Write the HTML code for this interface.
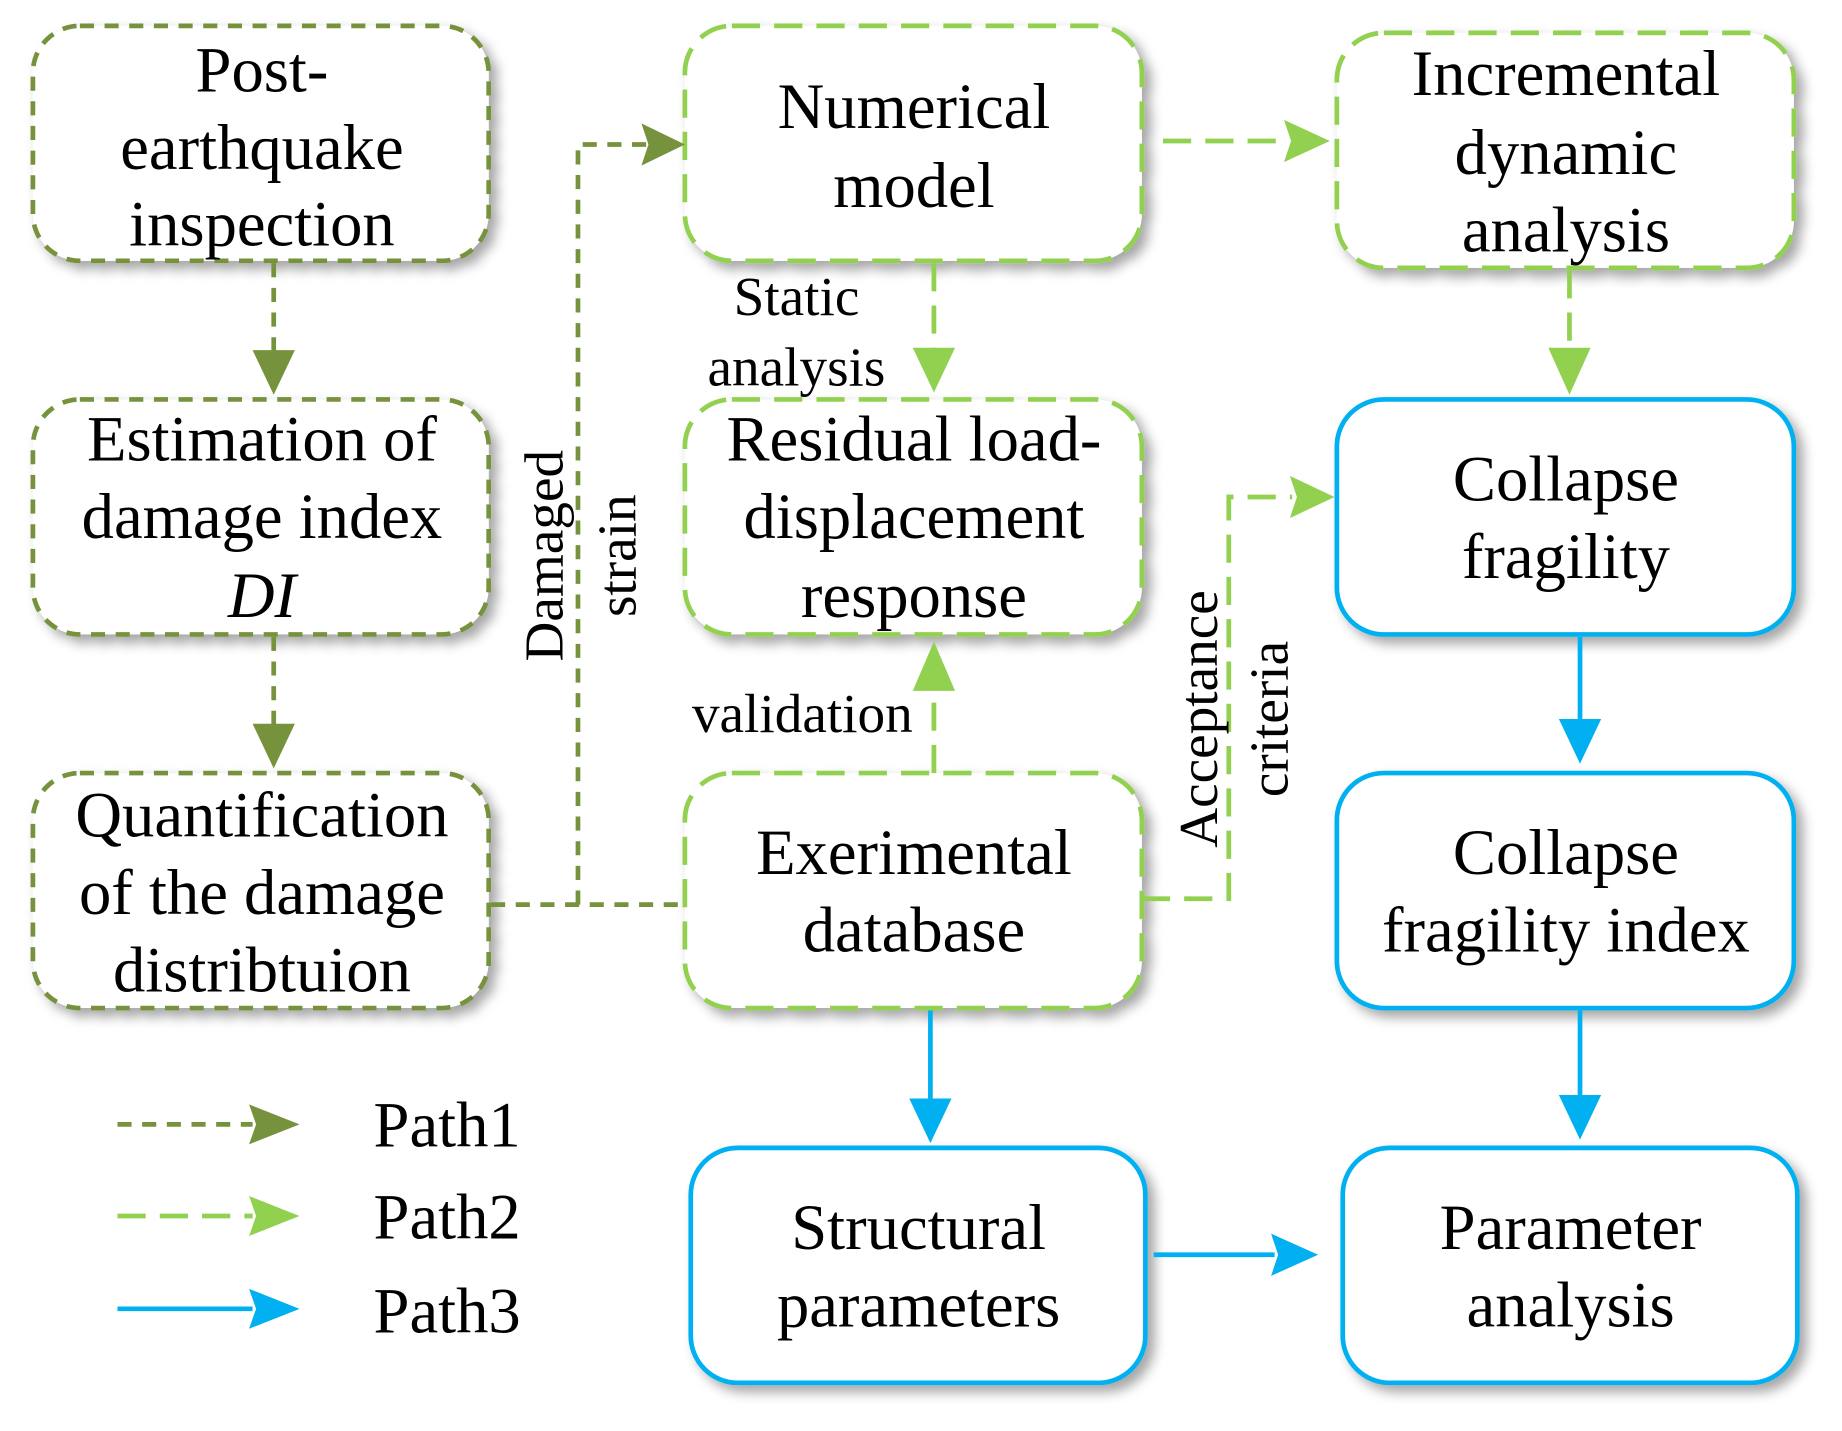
<!DOCTYPE html>
<html><head><style>html,body{margin:0;padding:0;background:#fff}svg{display:block}</style></head>
<body>
<svg width="1842" height="1431" viewBox="0 0 1568 1218" preserveAspectRatio="none" xmlns="http://www.w3.org/2000/svg" font-family="'Liberation Serif', serif">
<defs>
<filter id="sh" x="-10%" y="-10%" width="130%" height="130%"><feDropShadow dx="6" dy="6" stdDeviation="5" flood-color="#000" flood-opacity="0.35"/></filter>
</defs>
<g fill="#fff" stroke-width="4">
<g stroke="#76923C" stroke-dasharray="12,9">
<rect x="28" y="22" width="388" height="200" rx="40" filter="url(#sh)"/>
<rect x="28" y="340" width="388" height="200" rx="40" filter="url(#sh)"/>
<rect x="28" y="658" width="388" height="200" rx="40" filter="url(#sh)"/>
</g>
<g stroke="#92D050" stroke-dasharray="24,12">
<rect x="583" y="22" width="389" height="200" rx="40" filter="url(#sh)"/>
<rect x="1138" y="28" width="389" height="200" rx="40" filter="url(#sh)"/>
<rect x="583" y="340" width="389" height="200" rx="40" filter="url(#sh)"/>
<rect x="583" y="658" width="389" height="200" rx="40" filter="url(#sh)"/>
</g>
<g stroke="#00B0F0">
<rect x="1138" y="340" width="389" height="200" rx="40" filter="url(#sh)"/>
<rect x="1138" y="658" width="389" height="200" rx="40" filter="url(#sh)"/>
<rect x="588" y="977" width="387" height="200" rx="40" filter="url(#sh)"/>
<rect x="1143" y="977" width="387" height="200" rx="40" filter="url(#sh)"/>
</g>
</g>
<g fill="none" stroke-width="4">
<g stroke="#76923C" stroke-dasharray="12,9">
<line x1="233" y1="224" x2="233" y2="300"/>
<line x1="233" y1="542" x2="233" y2="618"/>
<polyline points="418,770 583,770"/>
<polyline points="492,770 492,123 550,123"/>
<line x1="100" y1="957" x2="215" y2="957"/>
</g>
<g stroke="#92D050" stroke-dasharray="24,12">
<line x1="990" y1="120" x2="1095" y2="120"/>
<line x1="795" y1="224" x2="795" y2="298"/>
<line x1="1336" y1="230" x2="1336" y2="298"/>
<line x1="795" y1="658" x2="795" y2="585"/>
<polyline points="972,765 1046,765 1046,423 1100,423"/>
<line x1="100" y1="1035" x2="215" y2="1035"/>
</g>
<g stroke="#00B0F0">
<line x1="1345" y1="542" x2="1345" y2="615"/>
<line x1="1345" y1="860" x2="1345" y2="935"/>
<line x1="792" y1="860" x2="792" y2="938"/>
<line x1="982" y1="1068" x2="1085" y2="1068"/>
<line x1="100" y1="1114" x2="215" y2="1114"/>
</g>
</g>
<g fill="#76923C">
<path d="M215,298 L251,298 L233,336 Z"/>
<path d="M215,616 L251,616 L233,654 Z"/>
<path d="M546,105 L583,123 L546,141 L552,123 Z"/>
<path d="M212,940 L255,957 L212,974 L218,957 Z"/>
</g>
<g fill="#92D050">
<path d="M1093,102 L1132,120 L1093,138 L1099,120 Z"/>
<path d="M777,296 L813,296 L795,334 Z"/>
<path d="M1318,296 L1354,296 L1336,336 Z"/>
<path d="M777,588 L813,588 L795,546 Z"/>
<path d="M1098,405 L1136,423 L1098,441 L1104,423 Z"/>
<path d="M212,1018 L255,1035 L212,1052 L218,1035 Z"/>
</g>
<g fill="#00B0F0">
<path d="M1327,612 L1363,612 L1345,650 Z"/>
<path d="M1327,932 L1363,932 L1345,970 Z"/>
<path d="M774,935 L810,935 L792,973 Z"/>
<path d="M1082,1050 L1122,1068 L1082,1086 L1088,1068 Z"/>
<path d="M212,1097 L255,1114 L212,1131 L218,1114 Z"/>
</g>
<g font-size="55" fill="#000" text-anchor="middle">
<text x="223" y="78">Post-</text><text x="223" y="144">earthquake</text><text x="223" y="209">inspection</text>
<text x="223" y="392">Estimation of</text><text x="223" y="458">damage index</text><text x="223" y="525" font-style="italic">DI</text>
<text x="223" y="712">Quantification</text><text x="223" y="778">of the damage</text><text x="223" y="844">distribtuion</text>
<text x="778" y="109">Numerical</text><text x="778" y="176">model</text>
<text x="1333" y="81">Incremental</text><text x="1333" y="148">dynamic</text><text x="1333" y="214">analysis</text>
<text x="778" y="392">Residual load-</text><text x="778" y="458">displacement</text><text x="778" y="525">response</text>
<text x="1333" y="426">Collapse</text><text x="1333" y="492">fragility</text>
<text x="778" y="744">Exerimental</text><text x="778" y="810">database</text>
<text x="1333" y="744">Collapse</text><text x="1333" y="810">fragility index</text>
<text x="782" y="1063">Structural</text><text x="782" y="1129">parameters</text>
<text x="1337" y="1063">Parameter</text><text x="1337" y="1129">analysis</text>
</g>
<g font-size="55" fill="#000">
<text x="318" y="976">Path1</text><text x="318" y="1054">Path2</text><text x="318" y="1134">Path3</text>
</g>
<g font-size="47" fill="#000" text-anchor="middle">
<text x="678" y="268">Static</text><text x="678" y="328">analysis</text>
<text x="683" y="623">validation</text>
<text transform="translate(479,473) rotate(-90)">Damaged</text>
<text transform="translate(541,473) rotate(-90)">strain</text>
<text transform="translate(1036,612) rotate(-90)">Acceptance</text>
<text transform="translate(1096,612) rotate(-90)">criteria</text>
</g>
</svg>
</body></html>
